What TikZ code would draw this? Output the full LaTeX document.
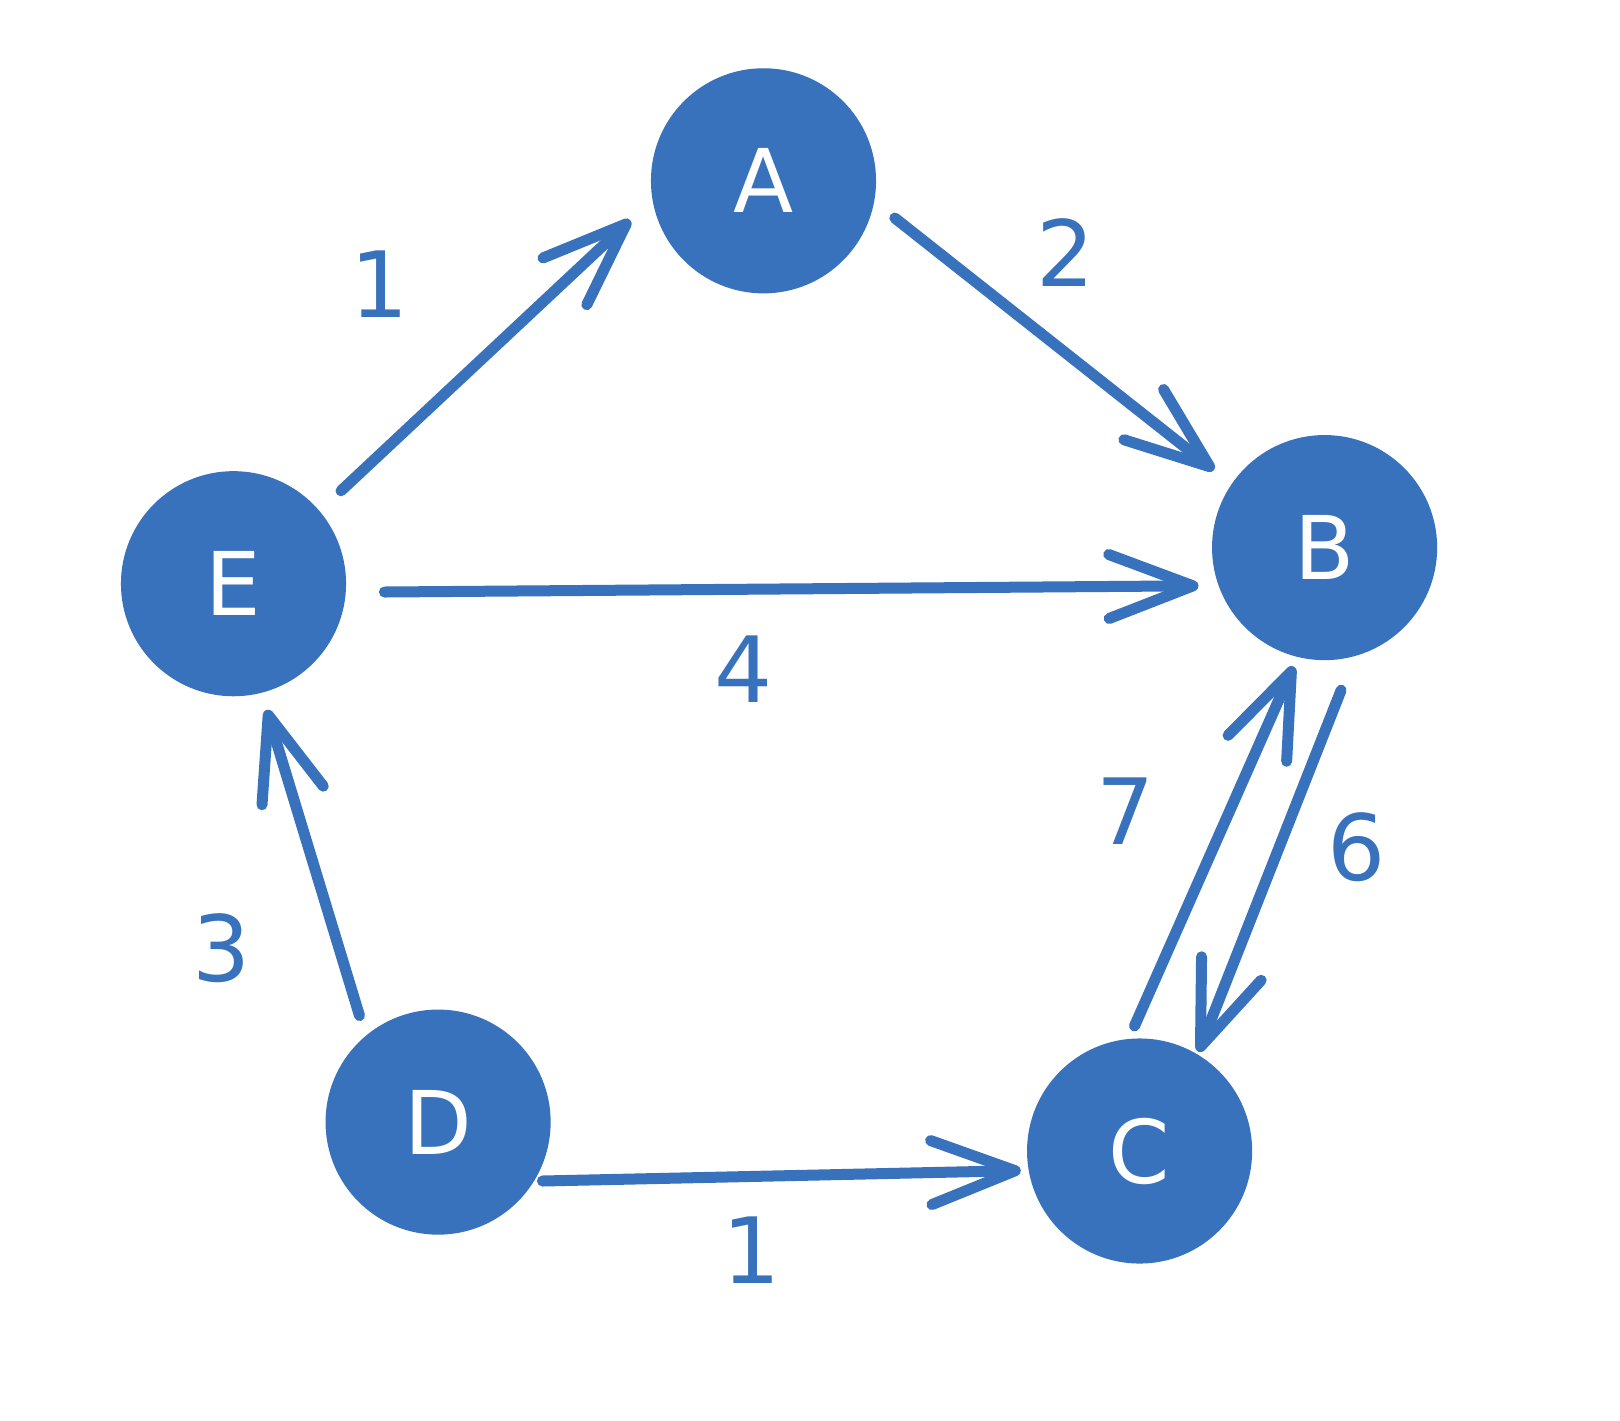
\documentclass[tikz,border=0pt]{standalone}
\usepackage{fontspec}
\setmainfont{DejaVu Sans}
\usetikzlibrary{arrows.meta,calc}
\definecolor{nodeblue}{HTML}{3871BC}
\begin{document}
\begin{tikzpicture}[x=0.01cm,y=-0.01cm,
  vertex/.style={circle,fill=nodeblue,minimum size=2.25cm,inner sep=0pt,text=white,font=\fontsize{25}{25}\selectfont},
  edge/.style={draw=nodeblue,line width=0.11cm,line cap=round,
    -{Straight Barb[length=0.84cm,width=0.64cm,round]}},
  wlabel/.style={text=nodeblue,font=\fontsize{26}{26}\selectfont}]
\useasboundingbox (0,0) rectangle (1620,1420);
\node[vertex] (A) at (763.5,180.8) {A};
\node[vertex] (B) at (1324.6,547.6) {B};
\node[vertex] (E) at (233.5,583.7) {E};
\node[vertex] (D) at (438.1,1122.1) {D};
\node[vertex] (C) at (1139.6,1151) {C};
% E -> A
\draw[edge] ($(E.center)+(107.5,-92.9)$) -- ($(A.center)+(-133.2,39.3)$);
\node[wlabel] (l1) at (380,284) {1};
% A -> B
\draw[edge] ($(A.center)+(131.3,37.2)$) -- ($(B.center)+(-110.6,-77.5)$);
\node[wlabel] (l2) at (1066,253) {2};
% E -> B
\draw[edge] ($(E.center)+(150.9,8.3)$) -- ($(B.center)+(-126.1,38.2)$);
\node[wlabel] (l4) at (744,669.5) {4};
% D -> E
\draw[edge] ($(D.center)+(-78.6,-106.5)$) -- ($(E.center)+(33.1,126.1)$);
\node[wlabel] (l3) at (222,948.5) {3};
% D -> C
\draw[edge] ($(D.center)+(104.3,58.9)$) -- ($(C.center)+(-118.8,19.6)$);
\node[wlabel] (l1b) at (752,1250) {1};
% C -> B
\draw[edge] ($(C.center)+(-5.1,-125)$) -- ($(B.center)+(-31,118.8)$);
\node[wlabel] (l7) at (1126,811) {7};
% B -> C
\draw[edge] ($(B.center)+(16.5,142.6)$) -- ($(C.center)+(58.9,-99.2)$);
\node[wlabel] (l6) at (1356.6,847) {6};
\end{tikzpicture}
\end{document}
